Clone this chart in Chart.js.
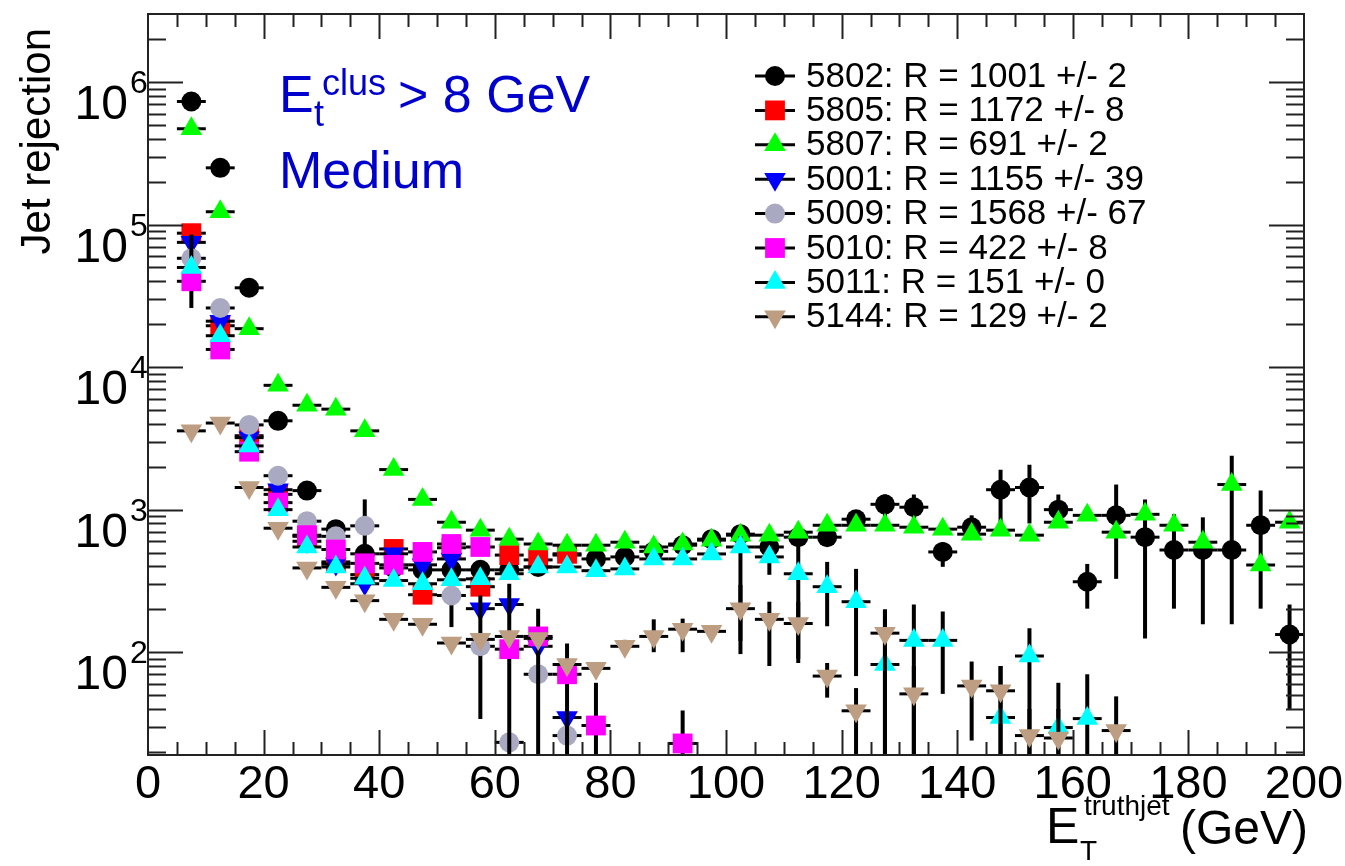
<!DOCTYPE html>
<html>
<head>
<meta charset="utf-8">
<title>Jet rejection vs E_T truthjet</title>
<script src="https://cdn.jsdelivr.net/npm/chart.js@4.4.0/dist/chart.umd.min.js"></script>
<style>
  html, body { margin: 0; padding: 0; background: #ffffff; }
  #wrap { width: 1345px; height: 866px; }
</style>
</head>
<body>
<div id="wrap"><canvas id="c" width="1345" height="866"></canvas></div>
<script>
const _ = null;

// Bin centres (GeV), 5 GeV wide bins
const binCenters = [
  7.5, 12.5, 17.5, 22.5, 27.5, 32.5, 37.5, 42.5, 47.5, 52.5,
  57.5, 62.5, 67.5, 72.5, 77.5, 82.5, 87.5, 92.5, 97.5, 102.5,
  107.5, 112.5, 117.5, 122.5, 127.5, 132.5, 137.5, 142.5, 147.5, 152.5,
  157.5, 162.5, 167.5, 172.5, 177.5, 182.5, 187.5, 192.5, 197.5
];
const binHalfWidth = 2.5;

const xTickLabels = [0, 20, 40, 60, 80, 100, 120, 140, 160, 180, 200];
const yTickExponents = [2, 3, 4, 5, 6];

const seriesLabels = [
  '5802: R = 1001 +/- 2',
  '5805: R = 1172 +/- 8',
  '5807: R = 691 +/- 2',
  '5001: R = 1155 +/- 39',
  '5009: R = 1568 +/- 67',
  '5010: R = 422 +/- 8',
  '5011: R = 151 +/- 0',
  '5144: R = 129 +/- 2'
];

// Jet rejection per bin
const rej5802 = [
  730000, 250000, 36000, 4200, 1360, 730, 490, 390, 378, 378,
  378, 378, 396, 480, 451, 466, 510, 563, 621, 673,
  547, 641, 641, 857, 1090, 1040, 505, 753, 1380, 1430,
  1000, 312, 912, 641, 521, 521, 521, 777, 133
];
const rej5805 = [
  87000, 19500, 3300, 1280, 650, 430, 350, 530, 253, 540,
  288, 480, 444, 490, _, _, _, _, _, _,
  _, _, _, _, _, _, _, _, _, _,
  _, _, _, _, _, _, _, _, _
];
const rej5807 = [
  470000, 123000, 18600, 7450, 5400, 5070, 3570, 1910, 1180, 816,
  718, 621, 574, 563, 563, 591, 547, 574, 611, 662,
  662, 695, 777, 777, 777, 753, 730, 673, 718, 662,
  816, 912, 695, 927, 777, 591, 1500, 409, 816
];
const rej5001 = [
  75000, 21000, 3200, 1380, 600, 415, 302, 490, 410, 451,
  202, 216, 110, 34.8, _, _, _, _, _, _,
  _, _, _, _, _, _, _, _, _, _,
  _, _, _, _, _, _, _, _, _
];
const rej5009 = [
  58000, 26000, 3930, 1730, 830, 650, 770, _, _, 250,
  110, 23.3, 70, 26, _, _, _, _, _, _,
  _, _, _, _, _, _, _, _, _, _,
  _, _, _, _, _, _, _, _, _
];
const rej5010 = [
  40000, 13300, 2550, 1120, 662, 525, 420, 410, 505, 574,
  547, 105, 129, 70, 30.6, _, _, 22.9, _, _,
  _, _, _, _, _, _, _, _, _, _,
  _, _, _, _, _, _, _, _, _
];
const rej5011 = [
  50000, 16600, 2800, 1000, 547, 396, 330, 318, 302, 322,
  327, 355, 396, 396, 373, 384, 451, 451, 489, 547,
  466, 355, 288, 226, 82, 121, 121, _, 34.8, 94,
  29.6, 34.2, _, _, _, _, _, _, _
];
const rej5144 = [
  3570, 4050, 1430, 741, 390, 285, 230, 170, 157, 116,
  123, 129, 125, 82, 77, 110, 129, 145, 140, 202,
  170, 159, 68, 38.8, 136, 51, _, 58, 53.6, 26,
  25, _, 28.2, _, _, _, _, _, _
];

// Vertical error bar ends (lower / upper), where they show beyond the marker
const lo5802 = [
  _, _, _, _, _, _, _, _, _, _,
  _, _, _, _, _, _, _, _, _, _,
  _, _, _, _, 857, 857, 397, 662, 800, 800,
  857, 202, 327, 125, 202, 157, 157, 202, 40
];
const hi5802 = [
  _, _, _, _, _, _, _, _, _, _,
  _, _, _, _, _, _, _, _, _, _,
  _, _, _, _, 1277, 1277, 591, 912, 1905, 2065,
  1277, 416, 1500, 1180, 927, 883, 2388, 1362, 216
];
const lo5009 = [
  _, _, _, _, _, _, 481, _, _, 150,
  34, _, _, _, _, _, _, _, _, _,
  _, _, _, _, _, _, _, _, _, _,
  _, _, _, _, _, _, _, _, _
];
const hi5009 = [
  _, _, _, _, _, _, 1180, _, _, 320,
  250, _, _, _, _, _, _, _, _, _,
  _, _, _, _, _, _, _, _, _, _,
  _, _, _, _, _, _, _, _, _
];
const lo5010 = [
  26000, _, _, _, _, _, _, _, _, _,
  _, 10, 10, 10, 10, _, _, 10, _, _,
  _, _, _, _, _, _, _, _, _, _,
  _, _, _, _, _, _, _, _, _
];
const hi5010 = [
  85000, _, _, _, _, _, _, _, _, _,
  _, 302, 202, 115, 61, _, _, 39, _, _,
  _, _, _, _, _, _, _, _, _, _,
  _, _, _, _, _, _, _, _, _
];
const lo5011 = [
  _, _, _, _, _, _, _, _, _, _,
  _, _, _, _, _, _, _, _, _, 97,
  349, 90, 152, 68, 10, 10, 51, _, 10, 10,
  10, 10, _, _, _, _, _, _, _
];
const hi5011 = [
  _, _, _, _, _, _, _, _, _, _,
  _, _, _, _, _, _, _, _, _, 650,
  600, 600, 430, 384, 199, 216, 193, _, 80, 147,
  61, 70, _, _, _, _, _, _, _
];
const lo5144 = [
  _, _, _, _, _, _, _, _, _, _,
  _, _, _, _, _, 100, 100, 100, _, 120,
  80, 84, 48, 10, 10, 10, _, 24, 10, 10,
  10, _, 10, _, _, _, _, _, _
];
const hi5144 = [
  _, _, _, _, _, _, _, _, _, _,
  _, _, _, _, _, 122, 170, 172, _, 297,
  226, 226, 84, 56, 199, 80, _, 86, 80, 40,
  40, _, 49, _, _, _, _, _, _
];

const FONT = "'Liberation Sans', Arial, Helvetica, sans-serif";

// Marker appearance for each run
const runs = [
  { label: seriesLabels[0], values: rej5802, lo: lo5802, hi: hi5802, color: '#000000', style: 'circle',   radius: 10,   rotation: 0 },
  { label: seriesLabels[1], values: rej5805, lo: null,   hi: null,   color: '#ff0000', style: 'rect',     radius: 14,   rotation: 0 },
  { label: seriesLabels[2], values: rej5807, lo: null,   hi: null,   color: '#00ff00', style: 'triangle', radius: 12.5, rotation: 0 },
  { label: seriesLabels[3], values: rej5001, lo: null,   hi: null,   color: '#0000ff', style: 'triangle', radius: 12.5, rotation: 180 },
  { label: seriesLabels[4], values: rej5009, lo: lo5009, hi: hi5009, color: '#a9a9c2', style: 'circle',   radius: 10,   rotation: 0 },
  { label: seriesLabels[5], values: rej5010, lo: lo5010, hi: hi5010, color: '#ff00ff', style: 'rect',     radius: 14,   rotation: 0 },
  { label: seriesLabels[6], values: rej5011, lo: lo5011, hi: hi5011, color: '#00ffff', style: 'triangle', radius: 12.5, rotation: 0 },
  { label: seriesLabels[7], values: rej5144, lo: lo5144, hi: hi5144, color: '#bd9e82', style: 'triangle', radius: 12.5, rotation: 180 }
];

const datasets = runs.map((r, i) => ({
  label: r.label,
  data: binCenters.map((x, k) => (r.values[k] == null ? null : { x: x, y: r.values[k] })).filter(p => p),
  showLine: false,
  pointStyle: r.style,
  pointRadius: r.radius,
  pointHoverRadius: r.radius,
  pointRotation: r.rotation,
  backgroundColor: r.color,
  borderColor: r.color,
  borderWidth: 0,
  order: runs.length - i   // later runs drawn on top
}));

// Black error bars, drawn just before each run's markers
const errorBars = {
  id: 'errorBars',
  beforeDatasetDraw(chart, args) {
    const r = runs[args.index];
    const xs = chart.scales.x, ys = chart.scales.y, a = chart.chartArea, ctx = chart.ctx;
    ctx.save();
    ctx.beginPath();
    ctx.rect(a.left, a.top, a.right - a.left, a.bottom - a.top);
    ctx.clip();
    ctx.strokeStyle = '#000000';
    ctx.lineCap = 'butt';
    binCenters.forEach((c, k) => {
      const v = r.values[k];
      if (v == null) return;
      const py = ys.getPixelForValue(v);
      ctx.lineWidth = 3;
      ctx.beginPath();
      ctx.moveTo(xs.getPixelForValue(c - binHalfWidth), py);
      ctx.lineTo(xs.getPixelForValue(c + binHalfWidth), py);
      ctx.stroke();
      if (r.lo && r.hi && r.lo[k] != null && r.hi[k] != null) {
        const px = xs.getPixelForValue(c);
        ctx.lineWidth = 4;
        ctx.beginPath();
        ctx.moveTo(px, ys.getPixelForValue(r.lo[k]));
        ctx.lineTo(px, ys.getPixelForValue(r.hi[k]));
        ctx.stroke();
      }
    });
    ctx.restore();
  }
};

function marker(ctx, r, x, y) {
  ctx.fillStyle = r.color;
  ctx.strokeStyle = r.color;
  Chart.helpers.drawPoint(ctx, { pointStyle: r.style, radius: r.radius, rotation: r.rotation, borderWidth: 0 }, x, y);
}

// Frame, inward ticks, labels, titles, legend and annotation
const frameAndText = {
  id: 'frameAndText',
  beforeDraw(chart) {
    const ctx = chart.ctx;
    ctx.save();
    ctx.fillStyle = '#ffffff';
    ctx.fillRect(0, 0, chart.width, chart.height);
    ctx.restore();
  },
  afterDatasetsDraw(chart) {
    const ctx = chart.ctx, a = chart.chartArea, xs = chart.scales.x, ys = chart.scales.y;
    ctx.save();
    ctx.strokeStyle = '#222222';
    ctx.lineWidth = 2;
    ctx.strokeRect(a.left, a.top, a.right - a.left, a.bottom - a.top);

    // x ticks (bottom and top)
    ctx.beginPath();
    for (let v = xs.min + 5; v < xs.max; v += 5) {
      const px = Math.round(xs.getPixelForValue(v)) + 0.5;
      const len = (v % 20 === 0) ? 25 : 13;
      ctx.moveTo(px, a.bottom); ctx.lineTo(px, a.bottom - len);
      ctx.moveTo(px, a.top); ctx.lineTo(px, a.top + len);
    }
    // y ticks (left and right)
    for (let e = 1; e <= 6; e++) {
      for (let m = 1; m <= 9; m++) {
        const v = m * Math.pow(10, e);
        if (v <= ys.min || v >= ys.max) continue;
        const py = Math.round(ys.getPixelForValue(v)) + 0.5;
        const len = (m === 1) ? 35 : 18;
        ctx.moveTo(a.left, py); ctx.lineTo(a.left + len, py);
        ctx.moveTo(a.right, py); ctx.lineTo(a.right - len, py);
      }
    }
    ctx.stroke();

    ctx.fillStyle = '#000000';
    // x tick labels
    ctx.font = '47px ' + FONT;
    ctx.textAlign = 'center';
    ctx.textBaseline = 'alphabetic';
    xTickLabels.forEach(v => {
      ctx.fillText(String(v), xs.getPixelForValue(v), a.bottom + 43);
    });
    // y tick labels 10^n
    yTickExponents.forEach(n => {
      const py = ys.getPixelForValue(Math.pow(10, n));
      ctx.font = '48px ' + FONT;
      ctx.textAlign = 'right';
      ctx.fillText('10', 128, py + 37);
      ctx.font = '32px ' + FONT;
      ctx.textAlign = 'left';
      ctx.fillText(String(n), 130, py + 11);
    });

    // y title
    ctx.save();
    ctx.translate(50, 28);
    ctx.rotate(-Math.PI / 2);
    ctx.font = '42px ' + FONT;
    ctx.textAlign = 'right';
    ctx.fillText('Jet rejection', 0, 0);
    ctx.restore();

    // x title  E_T^truthjet (GeV)
    ctx.textAlign = 'left';
    ctx.font = '50px ' + FONT;
    ctx.fillText('E', 1046, 843);
    ctx.font = '28px ' + FONT;
    ctx.fillText('T', 1080, 860);
    ctx.fillText('truthjet', 1084, 815);
    ctx.font = '48px ' + FONT;
    ctx.fillText('(GeV)', 1180, 844);

    // annotation
    ctx.fillStyle = '#0000cc';
    ctx.font = '52px ' + FONT;
    ctx.fillText('E', 279, 112);
    ctx.font = '36px ' + FONT;
    ctx.fillText('t', 314, 126);
    ctx.fillText('clus', 322, 95);
    ctx.font = '52px ' + FONT;
    ctx.fillText('> 8 GeV', 398, 112);
    ctx.fillText('Medium', 279, 188);

    // legend
    ctx.font = '35px ' + FONT;
    ctx.textBaseline = 'middle';
    runs.forEach((r, i) => {
      const y = 76 + i * 34.4;
      ctx.strokeStyle = '#000000';
      ctx.lineWidth = 3;
      ctx.beginPath();
      ctx.moveTo(755, y); ctx.lineTo(795, y);
      ctx.stroke();
      marker(ctx, r, 775, y);
      ctx.fillStyle = '#000000';
      ctx.fillText(r.label, 806, y + 1);
    });
    ctx.restore();
  }
};

new Chart(document.getElementById('c'), {
  type: 'scatter',
  data: { datasets: datasets },
  options: {
    responsive: false,
    animation: false,
    devicePixelRatio: 1,
    layout: { padding: { left: 148, right: 41, top: 7, bottom: 111 } },
    plugins: { legend: { display: false }, tooltip: { enabled: false } },
    scales: {
      x: { type: 'linear', min: 0, max: 200, display: false },
      y: { type: 'logarithmic', min: 19, max: 3.0e6, bounds: 'data', display: false }
    }
  },
  plugins: [errorBars, frameAndText]
});
</script>
</body>
</html>
